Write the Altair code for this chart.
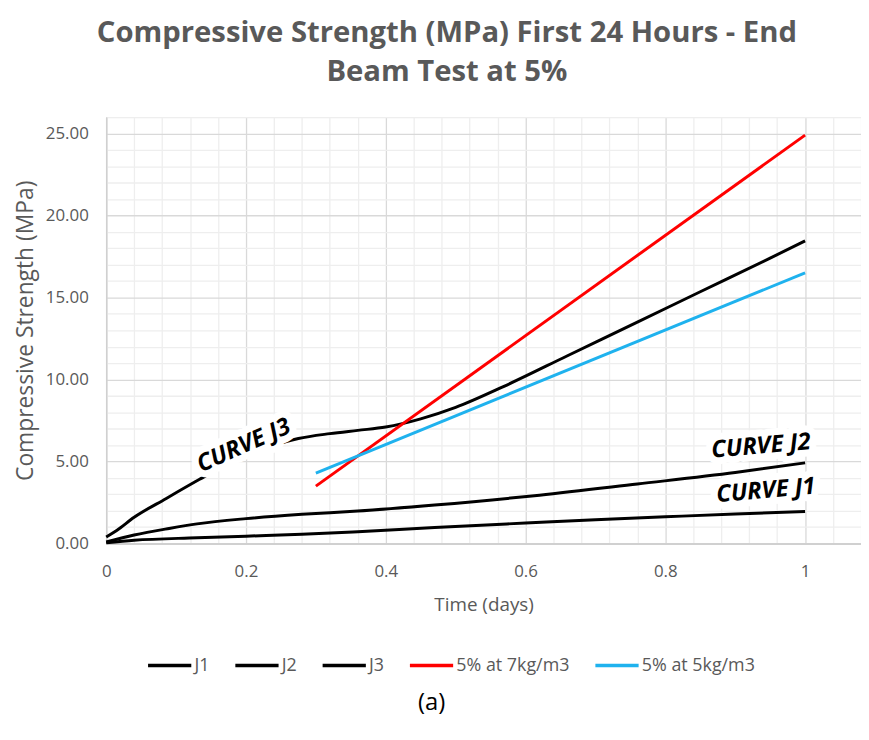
import altair as alt
import pandas as pd

title_lines = ["Compressive Strength (MPa) First 24 Hours - End", "Beam Test at 5%"]
x_title = "Time (days)"
y_title = "Compressive Strength (MPa)"
caption = "(a)"

series_names = ["J1", "J2", "J3", "5% at 7kg/m3", "5% at 5kg/m3"]
series_colors = ["#000000", "#000000", "#000000", "#FF0000", "#1FB2EE"]

j1_x = [0, 0.04, 0.13, 0.2, 0.28, 0.36, 0.47, 0.6, 0.7, 0.8, 0.9, 1.0]
j1_y = [0.05, 0.2, 0.35, 0.45, 0.56, 0.72, 0.98, 1.25, 1.45, 1.63, 1.8, 1.95]

j2_x = [0, 0.04, 0.09, 0.13, 0.2, 0.28, 0.36, 0.47, 0.62, 0.76, 0.9, 1.0]
j2_y = [0.1, 0.52, 0.92, 1.2, 1.52, 1.78, 1.98, 2.35, 2.95, 3.63, 4.33, 4.92]

j3_x = [0, 0.015, 0.04, 0.086, 0.133, 0.18, 0.23, 0.275, 0.32, 0.36, 0.4, 0.45,
        0.5, 0.57, 0.66, 0.76, 0.85, 0.95, 1.0]
j3_y = [0.4, 0.8, 1.6, 2.75, 3.9, 5.0, 5.85, 6.4, 6.7, 6.9, 7.1, 7.6,
        8.3, 9.6, 11.45, 13.5, 15.35, 17.4, 18.45]

red_x = [0.3, 1.0]
red_y = [3.5, 24.9]

blue_x = [0.3, 1.0]
blue_y = [4.3, 16.5]

label_text = ["CURVE J3", "CURVE J2", "CURVE J1"]
label_x = [0.197, 0.937, 0.944]
label_y = [5.96, 5.92, 3.2]
label_angle = [336, 355, 355]

x_grid_values = [round(i * 0.04, 2) for i in range(28)]
y_grid_values = list(range(27))

rows = []
for name, xs, ys in zip(series_names,
                        [j1_x, j2_x, j3_x, red_x, blue_x],
                        [j1_y, j2_y, j3_y, red_y, blue_y]):
    for i, (xv, yv) in enumerate(zip(xs, ys)):
        rows.append({"series": name, "t": xv, "s": yv, "i": i})
df = pd.DataFrame(rows)

labels_df = pd.DataFrame({"text": label_text, "t": label_x, "s": label_y,
                          "angle": label_angle})

GRAY = "#595959"
FONT = "Open Sans"

x_major_test = "abs(datum.value * 5 - round(datum.value * 5)) < 0.001"
y_major_test = "datum.value % 5 === 0"

x_scale = alt.Scale(domain=[0, 1.08], nice=False, zero=False)
y_scale = alt.Scale(domain=[0, 26], nice=False)

x_axis = alt.Axis(
    values=x_grid_values,
    tickCount=200,
    labelExpr=f"{x_major_test} ? '' + datum.value : ''",
    gridColor={"condition": {"test": x_major_test, "value": "#d9d9d9"}, "value": "#eeeeee"},
    gridWidth=1.3,
    ticks=False,
    domainColor="#d0d0d0",
    domainWidth=2,
    labelFont=FONT, labelFontSize=17, labelColor=GRAY, labelPadding=20,
    labelFlush=False, labelOverlap=False,
    title=x_title, titleFont=FONT, titleFontSize=19, titleFontWeight="normal",
    titleColor=GRAY, titlePadding=17,
)
y_axis = alt.Axis(
    values=y_grid_values,
    tickCount=200,
    labelExpr=f"{y_major_test} ? format(datum.value, '.2f') : ''",
    gridColor={"condition": {"test": y_major_test, "value": "#d9d9d9"}, "value": "#eeeeee"},
    gridWidth=1.3,
    ticks=False,
    domainColor="#d0d0d0",
    domainWidth=1.5,
    labelFont=FONT, labelFontSize=17, labelColor=GRAY, labelPadding=18,
    labelOverlap=False,
    title=y_title, titleFont=FONT, titleFontSize=23, titleFontWeight="normal",
    titleColor=GRAY, titlePadding=8,
)

color = alt.Color(
    "series:N",
    scale=alt.Scale(domain=series_names, range=series_colors),
    sort=series_names,
    legend=alt.Legend(
        title=None, orient="none", direction="horizontal",
        legendX=40, legendY=529,
        symbolType="stroke", symbolSize=1900, symbolStrokeWidth=3.5,
        labelFont=FONT, labelFontSize=18, labelColor=GRAY, labelOffset=1,
        columnPadding=18, labelLimit=300,
    ),
)

lines = alt.Chart(df).mark_line(strokeWidth=3, interpolate="monotone").encode(
    x=alt.X("t:Q", scale=x_scale, axis=x_axis),
    y=alt.Y("s:Q", scale=y_scale, axis=y_axis),
    color=color,
    order="i:Q",
    detail="series:N",
)

halo = alt.Chart(labels_df).mark_text(
    font=FONT, fontSize=24, fontWeight="bold", fontStyle="italic",
    color="white", stroke="white", strokeWidth=14, strokeJoin="round",
    align="center", baseline="middle",
).encode(
    x=alt.X("t:Q", scale=x_scale),
    y=alt.Y("s:Q", scale=y_scale),
    text="text:N",
    angle=alt.Angle("angle:Q", scale=None),
)

label_marks = alt.Chart(labels_df).mark_text(
    font=FONT, fontSize=24, fontWeight="bold", fontStyle="italic",
    color="#000000", align="center", baseline="middle",
).encode(
    x=alt.X("t:Q", scale=x_scale),
    y=alt.Y("s:Q", scale=y_scale),
    text="text:N",
    angle=alt.Angle("angle:Q", scale=None),
)

cap = alt.Chart(pd.DataFrame({"text": [caption]})).mark_text(
    font=FONT, fontSize=24, color="#000000", align="center", baseline="middle",
).encode(
    x=alt.value(328),
    y=alt.value(591),
    text="text:N",
)

chart = alt.layer(lines, halo, label_marks, cap).properties(
    width=761,
    height=430,
    autosize=alt.AutoSizeParams(type="none"),
    padding={"left": 99, "top": 107, "right": 0, "bottom": 180},
    title=alt.TitleParams(
        text=title_lines, font=FONT, fontSize=29.5, fontWeight="bold",
        color=GRAY, anchor="middle", dx=-37, offset=21, lineHeight=39,
    ),
).configure_view(strokeWidth=0).configure(background="white")

chart.save("out.html", embed_options={"renderer": "svg", "actions": False})
